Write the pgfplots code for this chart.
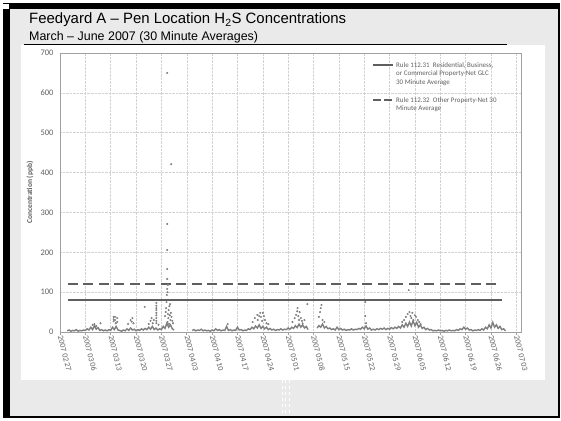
\documentclass[border=0pt]{standalone}
\usepackage{fontspec}
\setmainfont{Liberation Sans}
\newfontfamily\calib{Carlito}
\usepackage{pgfplots}
\pgfplotsset{compat=1.18}

\definecolor{slidebg}{HTML}{EAEAEA}
\definecolor{bord}{HTML}{A0A0A0}
\definecolor{gridc}{HTML}{D2D2D2}
\definecolor{datc}{HTML}{7F7F7F}
\definecolor{refc}{HTML}{5F5F5F}
\definecolor{txtc}{HTML}{606060}

\newcommand{\legtext}[1]{\begin{tabular}[t]{@{}l@{}}#1\end{tabular}}

\begin{document}
\begin{tikzpicture}[x=1bp,y=1bp]
\useasboundingbox (0,0) rectangle (561,420);
% slide frame
\fill[white] (0,0) rectangle (561,420);
\fill[black] (3,2) rectangle (560,417);
\fill[slidebg] (10,4) rectangle (558,411);
\fill[white] (2,411) rectangle (9,416);
\fill[white] (21,40) rectangle (545,375);
\draw[black, line width=1bp] (24,375.5) -- (507,375.5);
\foreach \xx in {282,285.5,289}
  \draw[white, dashed, line width=0.8bp] (\xx,40) -- (\xx,7);
% titles
\node[anchor=base west, inner sep=0pt, font=\fontsize{15}{17}\selectfont] at (29,396)
  {Feedyard A – Pen Location H\textsubscript{2}S Concentrations};
\node[anchor=base west, inner sep=0pt, font=\fontsize{12.5}{15}\selectfont] at (29,380)
  {March – June 2007 (30 Minute Averages)};

\begin{axis}[
    at={(60bp,88bp)}, anchor=south west,
    width=461bp, height=279bp, scale only axis,
    xmin=0, xmax=127.3, ymin=0, ymax=700,
    axis line style={draw=bord, line width=1bp},
    grid=major,
    major grid style={densely dotted, draw=gridc, line width=0.5bp},
    xtick={0,7,...,126},
    xticklabels={2007 02 27,2007 03 06,2007 03 13,2007 03 20,2007 03 27,2007 04 03,
      2007 04 10,2007 04 17,2007 04 24,2007 05 01,2007 05 08,2007 05 15,2007 05 22,
      2007 05 29,2007 06 05,2007 06 12,2007 06 19,2007 06 26,2007 07 03},
    ytick={0,100,...,700},
    tick pos=left, tick align=outside, major tick length=3bp,
    xtick style={draw=bord, line width=0.6bp},
    ytick style={draw=none},
    /pgf/number format/assume math mode=true,
    x tick label style={rotate=-76, anchor=west, font=\calib\fontsize{8}{9}\selectfont, text=txtc, inner sep=1bp},
    y tick label style={font=\calib\fontsize{8.5}{9}\selectfont, text=txtc},
    ylabel={Concentration (ppb)},
    every axis y label/.style={at={(axis description cs:-0.065,0.5)}, rotate=90, anchor=center,
      font=\calib\bfseries\fontsize{7.5}{9}\selectfont, text=txtc},
]
% reference lines: Rule 112.31 (80 ppb) and Rule 112.32 (120 ppb)
\addplot[refc, line width=2bp] coordinates {(2.2,80) (122,80)};
\addplot[refc, line width=2bp, dash pattern=on 10bp off 5.5bp] coordinates {(2.2,120) (121,120)};

% dense low-level band
\addplot[datc, line width=1.4bp] coordinates {
(2.0,3) (2.5,5) (3.0,2) (3.5,4) (4.0,3) (4.5,6) (5.0,2) (5.5,4) (6.0,3) (6.5,5)
(7.0,4) (7.5,8) (8.0,5) (8.5,12) (9.0,6) (9.5,16) (10.0,7) (10.5,11) (11.0,4) (11.5,6)
(12.0,3) (12.5,5) (13.0,3) (13.5,6) (14.0,4) (14.5,12) (15.0,6) (15.5,14) (16.0,5) (16.5,4)
(17.0,2) (17.5,5) (18.0,3) (18.5,8) (19.0,4) (19.5,10) (20.0,5) (20.5,7) (21.0,3) (21.5,6)
(22.0,4) (22.5,8) (23.0,5) (23.5,9) (24.0,6) (24.5,12) (25.0,7) (25.5,14) (26.0,6) (26.5,10)
(27.0,5) (27.5,8) (28.0,6) (28.5,14) (29.0,9) (29.5,22) (30.0,12) (30.5,18) (31.0,8) (31.5,5)
};
\addplot[datc, line width=1.4bp] coordinates {
(36.5,4) (37.0,6) (37.5,3) (38.0,5) (38.5,4) (39.0,7) (39.5,3) (40.0,5) (40.5,3) (41.0,4)
(41.5,2) (42.0,5) (42.5,3) (43.0,8) (43.5,4) (44.0,6) (44.5,3) (45.0,5) (45.5,4) (46.0,14)
(46.5,4) (47.0,6) (47.5,3) (48.0,5) (48.5,4) (49.0,12) (49.5,5) (50.0,6) (50.5,3) (51.0,5)
(51.5,4) (52.0,8) (52.5,6) (53.0,12) (53.5,8) (54.0,15) (54.5,10) (55.0,18) (55.5,9) (56.0,14)
(56.5,8) (57.0,12) (57.5,6) (58.0,9) (58.5,5) (59.0,7) (59.5,4) (60.0,6) (60.5,5) (61.0,8)
(61.5,5) (62.0,7) (62.5,6) (63.0,10) (63.5,7) (64.0,12) (64.5,9) (65.0,16) (65.5,11) (66.0,20)
(66.5,12) (67.0,18) (67.5,10) (68.0,14) (68.5,6)
};
\addplot[datc, line width=1.4bp] coordinates {
(71.0,10) (71.5,16) (72.0,12) (72.5,20) (73.0,10) (73.5,14) (74.0,8) (74.5,10) (75.0,6) (75.5,8)
(76.0,5) (76.5,12) (77.0,6) (77.5,9) (78.0,5) (78.5,7) (79.0,4) (79.5,6) (80.0,5) (80.5,8)
(81.0,5) (81.5,7) (82.0,6) (82.5,9) (83.0,7) (83.5,12) (84.0,8) (84.5,15) (85.0,7) (85.5,10)
(86.0,5) (86.5,7) (87.0,5) (87.5,8) (88.0,6) (88.5,9) (89.0,7) (89.5,10) (90.0,6) (90.5,9)
(91.0,7) (91.5,11) (92.0,8) (92.5,12) (93.0,9) (93.5,14) (94.0,10) (94.5,18) (95.0,12) (95.5,22)
(96.0,14) (96.5,25) (97.0,15) (97.5,28) (98.0,16) (98.5,24) (99.0,12) (99.5,18) (100.0,9) (100.5,12)
(101.0,6) (101.5,9) (102.0,5) (102.5,6) (103.0,3) (103.5,4) (104.0,3) (104.5,5) (105.0,3) (105.5,4)
(106.0,2) (106.5,4) (107.0,3) (107.5,5) (108.0,3) (108.5,4) (109.0,3) (109.5,6) (110.0,4) (110.5,8)
(111.0,6) (111.5,12) (112.0,7) (112.5,10) (113.0,5) (113.5,6) (114.0,3) (114.5,5) (115.0,4) (115.5,6)
(116.0,4) (116.5,8) (117.0,5) (117.5,12) (118.0,8) (118.5,18) (119.0,10) (119.5,24) (120.0,12) (120.5,18)
(121.0,9) (121.5,14) (122.0,6) (122.5,8) (123.0,3)
};

% scattered higher readings
\addplot[only marks, mark=*, mark size=0.8bp, datc] coordinates {
(9.0,18) (9.5,20) (10.0,15) (11.2,22) (14.8,38) (14.8,32) (14.8,27) (15.2,38) (15.2,30)
(15.4,22) (15.8,35) (15.8,25) (18.8,20) (19.5,30) (19.8,26) (20.0,35) (20.3,22) (23.4,63)
(24.5,20) (25.0,28) (25.3,35) (25.6,22) (25.9,30) (26.6,73) (26.6,66) (26.6,60) (26.6,55)
(26.6,48) (26.6,42) (26.6,35) (26.6,28) (26.6,22) (27.2,18)
(29.0,40) (29.2,50) (29.3,60) (29.4,75) (29.5,93) (29.7,100) (29.6,108) (29.8,118) (29.6,133)
(29.6,158) (29.6,206) (29.6,271) (29.6,650) (30.7,421) (29.8,45) (29.9,35) (30.0,55) (30.2,65)
(30.3,42) (30.5,30) (30.6,48) (30.8,38) (31.0,28) (30.4,70) (29.7,25) (30.1,20) (31.2,22)
(46.3,20) (53.2,25) (53.8,35) (54.5,43) (54.6,30) (55.0,40) (55.3,48) (55.5,38) (55.8,28)
(56.0,48) (56.3,40) (56.6,30) (57.0,22) (57.5,20) (64.2,25) (64.8,35) (65.2,43) (65.5,52)
(65.6,60) (65.8,40) (66.0,30) (66.2,50) (66.5,35) (66.8,28) (67.0,22) (67.5,30) (68.3,70)
(71.5,38) (71.8,50) (72.0,60) (72.2,68) (72.5,30) (73.0,25) (84.3,75) (84.3,40) (84.5,22)
(94.5,25) (95.0,30) (95.5,38) (96.0,45) (96.3,105) (96.5,50) (96.8,40) (97.0,35) (97.3,48)
(97.6,30) (98.0,42) (98.3,38) (98.8,30) (99.2,25) (99.6,20)
};
\end{axis}

% legend (top right inside the plot area)
\draw[refc, line width=2bp] (373,355) -- (393,355);
\node[anchor=base west, inner sep=0pt, text=txtc, font=\calib\fontsize{7}{8.5}\selectfont] at (396,352.5)
  {\legtext{Rule 112.31\ \ Residential, Business,\\or Commercial Property-Net GLC\\30 Minute Average}};
\draw[refc, line width=2bp, dash pattern=on 8bp off 3bp] (373,320) -- (393,320);
\node[anchor=base west, inner sep=0pt, text=txtc, font=\calib\fontsize{7}{8.5}\selectfont] at (396,317.5)
  {\legtext{Rule 112.32\ \ Other Property-Net 30\\Minute Average}};
\end{tikzpicture}
\end{document}
